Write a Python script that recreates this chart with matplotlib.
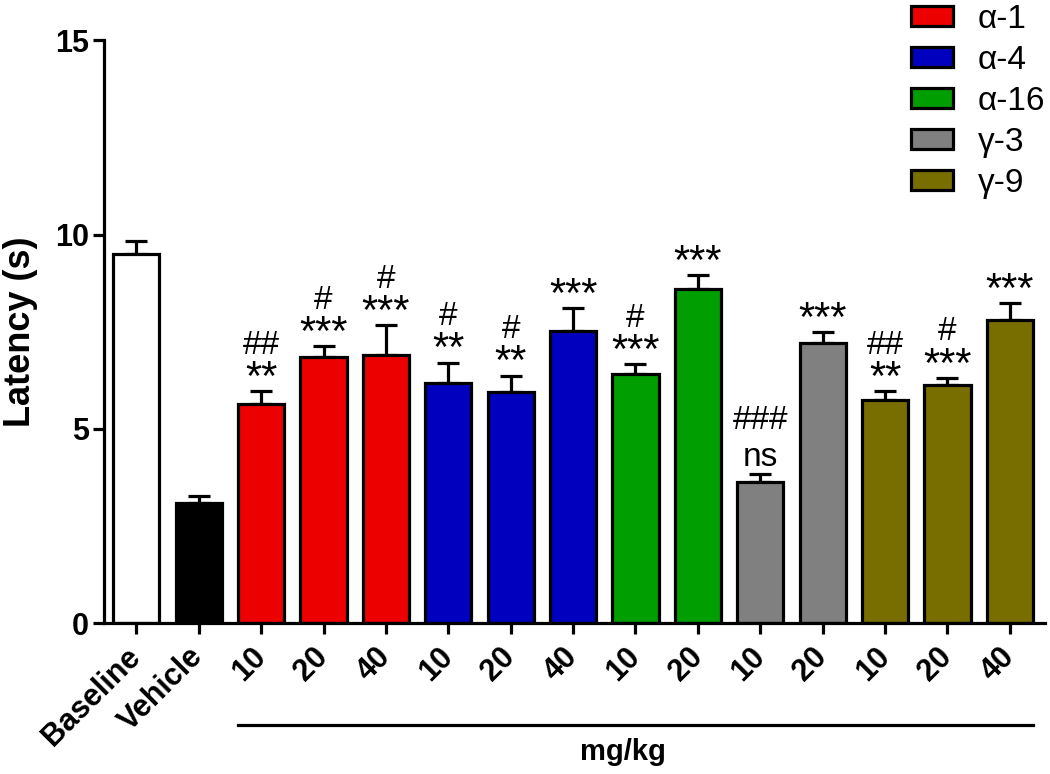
import matplotlib
matplotlib.use("Agg")
import matplotlib.pyplot as plt
import matplotlib.patches as mpatches
import matplotlib.transforms as mtransforms
import numpy as np

plt.rcParams['font.family'] = ['Liberation Sans', 'DejaVu Sans']

# data
labels = ["Baseline", "Vehicle", "10", "20", "40", "10", "20", "40", "10", "20", "10", "20", "10", "20", "40"]
groups = ["base", "veh", "a1", "a1", "a1", "a4", "a4", "a4", "a16", "a16", "g3", "g3", "g9", "g9", "g9"]
means = [9.49, 3.08, 5.63, 6.85, 6.89, 6.19, 5.95, 7.52, 6.42, 8.59, 3.64, 7.22, 5.75, 6.12, 7.81]
sem = [0.35, 0.19, 0.33, 0.28, 0.77, 0.51, 0.42, 0.58, 0.24, 0.36, 0.20, 0.27, 0.21, 0.19, 0.42]
hash_marks = ["", "", "##", "#", "#", "#", "#", "", "#", "", "###", "", "##", "#", ""]
star_marks = ["", "", "**", "***", "***", "**", "**", "***", "***", "***", "ns", "***", "**", "***", "***"]

legend_keys = ["a1", "a4", "a16", "g3", "g9"]
legend_names = ["α-1", "α-4", "α-16", "γ-3", "γ-9"]

colors = {"base": "#FFFFFF", "veh": "#000000", "a1": "#ED0000", "a4": "#0000BE",
          "a16": "#009E00", "g3": "#808080", "g9": "#786E00"}

lw = 2.3

fig = plt.figure(figsize=(10.5, 7.74), dpi=100)
ax = fig.add_axes([0.099, 0.195, 0.896, 0.753])

x = np.arange(len(means))
bar_colors = [colors[g] for g in groups]
ax.bar(x, means, width=0.74, color=bar_colors, edgecolor="black", linewidth=lw, zorder=2)
ax.errorbar(x, means, yerr=[np.zeros(len(sem)), sem], fmt="none", ecolor="black",
            elinewidth=lw, capsize=8, capthick=lw, zorder=1)

for xi, m, s, h, st in zip(x, means, sem, hash_marks, star_marks):
    top = m + s
    if st == "ns":
        ax.annotate(st, (xi, top), xytext=(0, 6), textcoords="offset points",
                    ha="center", va="baseline", fontsize=24)
        ax.annotate(h, (xi, top), xytext=(0, 32), textcoords="offset points",
                    ha="center", va="baseline", fontsize=24)
    else:
        if st:
            ax.annotate(st, (xi, top), xytext=(0, 1), textcoords="offset points",
                        ha="center", va="baseline", fontsize=30)
        if h:
            ax.annotate(h, (xi, top), xytext=(0, 27), textcoords="offset points",
                        ha="center", va="baseline", fontsize=24)

ax.set_xlim(-0.52, 14.56)
ax.set_ylim(0, 15)
ax.set_yticks([0, 5, 10, 15])
ax.set_xticks(x)
ax.set_xticklabels(labels, rotation=45, ha="right", va="center", rotation_mode="anchor",
                   fontsize=22, fontweight="bold")
for t in ax.get_yticklabels():
    t.set_fontsize(22)
    t.set_fontweight("bold")
ax.tick_params(axis="both", direction="out", length=8, width=lw, pad=3)
ax.tick_params(axis="x", pad=13)

for side in ["top", "right"]:
    ax.spines[side].set_visible(False)
for side in ["left", "bottom"]:
    ax.spines[side].set_linewidth(lw)

ax.set_ylabel("Latency (s)", fontsize=26, fontweight="bold", labelpad=12)

# dose bracket under the treated groups
trans = mtransforms.blended_transform_factory(ax.transData, ax.transAxes)
ax.plot([2 - 0.37, 14 + 0.37], [-0.175, -0.175], color="black", lw=lw,
        transform=trans, clip_on=False)
ax.text(7.8, -0.222, "mg/kg", transform=trans, ha="center", va="center",
        fontsize=21, fontweight="bold")

handles = [mpatches.Patch(facecolor=colors[k], edgecolor="black", linewidth=lw, label=n)
           for k, n in zip(legend_keys, legend_names)]
fig.legend(handles=handles, loc="upper left", bbox_to_anchor=(0.855, 1.012), frameon=False,
           fontsize=24, handlelength=1.25, handleheight=0.55, handletextpad=0.75,
           labelspacing=0.3, borderaxespad=0)

fig.savefig("out.png", dpi=100)
